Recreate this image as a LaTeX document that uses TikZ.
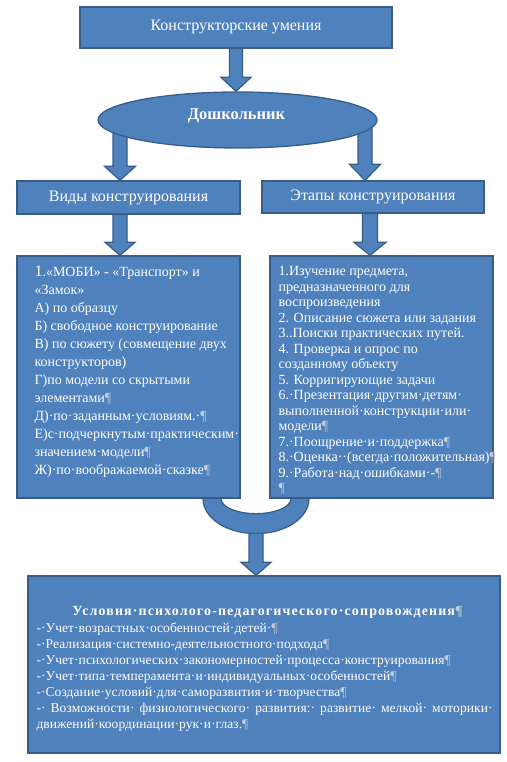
\documentclass[tikz,border=0pt]{standalone}
\usepackage{fontspec}
\setmainfont{Liberation Serif}
\usetikzlibrary{shapes.geometric,calc}
\definecolor{boxfill}{HTML}{4F81BD}
\definecolor{boxline}{HTML}{385D8A}
\definecolor{pil}{HTML}{C4CCD8}
\newcommand\pc{{\color{pil}¶}}
\pgfdeclarelayer{back}
\pgfdeclarelayer{arrows}
\pgfsetlayers{back,arrows,main}
\newcommand\blkarrow[5]{%
  \draw[blk] let \p1=(#1), \p2=(#2) in
    (\x1-#3,\y1) -- (\x1-#3,\y2+#5) -- (\x1-#4,\y2+#5) -- (\x1,\y2)
    -- (\x1+#4,\y2+#5) -- (\x1+#3,\y2+#5) -- (\x1+#3,\y1) -- cycle;}
\tikzset{
  box/.style={draw=boxline, fill=boxfill, line width=1.3pt, rectangle, inner sep=0pt, text=white},
  blk/.style={draw=boxline, fill=boxfill, line width=1.2pt, line join=miter},
  headtxt/.style={font=\fontsize{16}{19}\selectfont},
  txt/.style={text=white, align=left, inner sep=0pt, anchor=north west},
}
\begin{document}
\begin{tikzpicture}[x=1pt,y=1pt]
\useasboundingbox (0,0) rectangle (506,762);
\begin{pgfonlayer}{back}
  \fill[white] (0,0) rectangle (506,762);
\end{pgfonlayer}
\coordinate (xL) at (120,0);
\coordinate (xR) at (365,0);
\coordinate (xR2) at (370,0);
\coordinate (xM) at (256,0);

% boxes
\node[box, headtxt, minimum width=312pt, minimum height=41pt] (top) at (236,734.5) {Конструкторские умения};
\node[ellipse, draw=boxline, fill=boxfill, line width=1.3pt, minimum width=279pt, minimum height=56pt,
      inner sep=0pt] (ell) at (237.5,642) {};
\node[text=white, inner sep=0pt, font=\bfseries\fontsize{16.5}{19}\selectfont] (elltxt) at ($(ell.center)+(-1,4)$) {Дошкольник};
\node[box, headtxt, minimum width=223pt, minimum height=33pt] (lhead) at (128.5,564.5) {Виды конструирования};
\node[box, headtxt, minimum width=222pt, minimum height=32pt] (rhead) at (373,565) {Этапы конструирования};
\node[box, minimum width=223pt, minimum height=242pt] (lbox) at (128.5,385) {};
\node[box, minimum width=223pt, minimum height=242pt] (rbox) at (381.5,385) {};
\node[box, minimum width=472pt, minimum height=177pt] (bbox) at (264,97.5) {};

% texts
\node[txt, font=\fontsize{14}{18}\selectfont] (ltxt) at ($(lbox.north west)+(18,-10)$) {%
{\fontsize{16}{18}\selectfont 1}.«МОБИ» - «Транспорт» и\\
«Замок»\\
А) по образцу\\
Б) свободное конструирование\\
В) по сюжету (совмещение двух\\
конструкторов)\\
Г)по модели со скрытыми\\
элементами\pc\\
Д)·по·заданным·условиям.·\pc\\
Е)с·подчеркнутым·практическим·\\
значением·модели\pc\\
Ж)·по·воображаемой·сказке\pc};

\node[txt, font=\fontsize{14}{15.5}\selectfont] (rtxt) at ($(rbox.north west)+(9,-11)$) {%
1.Изучение предмета,\\
предназначенного для\\
воспроизведения\\
2. Описание сюжета или задания\\
3..Поиски практических путей.\\
4. Проверка и опрос по\\
созданному объекту\\
5. Корригирующие задачи\\
6.·Презентация·другим·детям·\\
выполненной·конструкции·или·\\
модели\pc\\
7.·Поощрение·и·поддержка\pc\\
8.·Оценка··(всегда·положительная)\pc\\
9.·Работа·над·ошибками·-\pc\\
\pc};

\node[text=white, inner sep=0pt, font=\bfseries\fontsize{14}{16}\selectfont\addfontfeature{LetterSpace=8}] (btitle)
  at ($(bbox.north)+(3.5,-37)$) {Условия·психолого-педагогического·сопровождения\pc};
\node[txt, font=\fontsize{13.5}{16}\selectfont\addfontfeature{LetterSpace=0.5}] (btxt) at ($(bbox.north west)+(9,-47)$) {%
-·Учет·возрастных·особенностей·детей·\pc\\
-·Реализация·системно-деятельностного·подхода\pc\\
-·Учет·психологических·закономерностей·процесса·конструирования\pc\\
-·Учет·типа·темперамента·и·индивидуальных·особенностей\pc\\
-·Создание·условий·для·саморазвития·и·творчества\pc\\
\makebox[456pt][s]{-·\hfill Возможности·\hfill физиологического·\hfill развития:·\hfill развитие·\hfill мелкой·\hfill моторики·}\\
движений·координации·рук·и·глаз.\pc};

% block arrows
\begin{pgfonlayer}{arrows}
  \blkarrow{top.south}{ell.north}{6.5}{15}{14}
  \blkarrow{ell.center -| xL}{lhead.north -| xL}{7}{15.5}{14}
  \blkarrow{ell.center -| xR}{rhead.north -| xR}{7}{15.5}{16}
  \blkarrow{lhead.south -| xL}{lbox.north -| xL}{7}{15}{13}
  \blkarrow{rhead.south -| xR2}{rbox.north -| xR2}{7.5}{16}{13}
  \blkarrow{$(lbox.south -| xM)+(0,-22)$}{bbox.north -| xM}{7}{15}{13}
  \coordinate (cU) at (lbox.south -| xM);
  \draw[blk] ($(cU)+(-53,20)$) -- ($(cU)+(-53,0)$)
     arc[start angle=180, end angle=360, x radius=53, y radius=35]
     -- ++(0,20) -- ++(-18,0) -- ++(0,-20)
     arc[start angle=0, end angle=-180, x radius=35, y radius=15]
     -- ++(0,20) -- cycle;
\end{pgfonlayer}
\end{tikzpicture}
\end{document}
